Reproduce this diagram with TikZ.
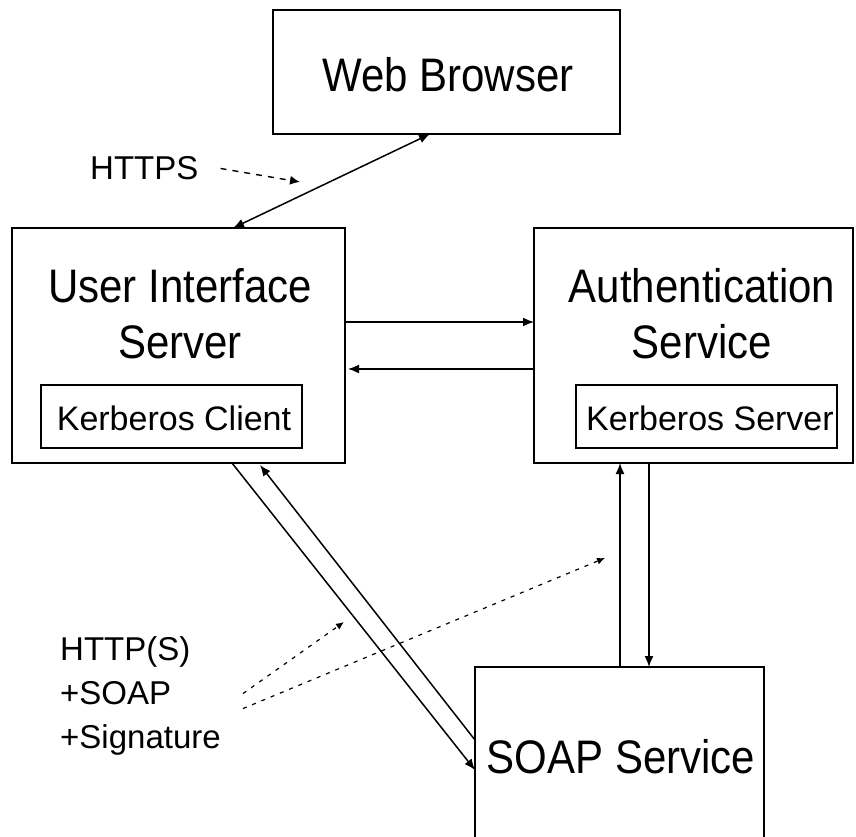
\documentclass[tikz,border=0pt]{standalone}
\usepackage{fontspec}
\setmainfont{Liberation Sans}
\usetikzlibrary{arrows.meta,calc}
\newcommand{\talltext}[1]{\scalebox{1}[1.12]{#1}}
\begin{document}
\begin{tikzpicture}[x=1pt,y=-1pt,
  box/.style={draw,line width=2pt,inner sep=0pt,outer sep=0pt},
  inbox/.style={draw,line width=1.5pt,inner sep=0pt,outer sep=0pt},
  big/.style={inner sep=0pt,font=\fontsize{42}{56}\selectfont,align=center},
  small/.style={inner sep=0pt,font=\fontsize{34}{44}\selectfont},
  lbl/.style={inner sep=0pt,font=\fontsize{33}{44}\selectfont,align=left},
  conn/.style={line width=1.5pt,-{Latex[length=11pt,width=9pt]}},
  dconn/.style={line width=1.5pt,{Latex[length=11pt,width=9pt]}-{Latex[length=11pt,width=9pt]}},
  dash1/.style={line width=1.4pt,dash pattern=on 6pt off 6pt,-{Latex[length=10pt,width=9pt]}},
  dash2/.style={line width=1.2pt,dash pattern=on 4pt off 6pt,-{Latex[length=8pt,width=7pt]}}]
\clip (0,0) rectangle (856,837);
\fill[white] (0,0) rectangle (856,837);
% boxes
\node[box,minimum width=347pt,minimum height=124pt] (wb) at (446.5,72) {};
\node[box,minimum width=333pt,minimum height=235pt] (ui) at (178.5,345.5) {};
\node[box,minimum width=319pt,minimum height=235pt] (auth) at (693.5,345.5) {};
\node[box,minimum width=289pt,minimum height=180pt] (soap) at (619.5,757) {};
\node[inbox,minimum width=261pt,minimum height=63pt] (kc) at (171.5,416.5) {};
\node[inbox,minimum width=261pt,minimum height=63pt] (ks) at (706.5,416.5) {};
% texts
\node[big] (wbt) at (448,75) {\talltext{Web Browser}};
\node[big,anchor=north] (uit) at (180,268) {\talltext{User Interface}\\\talltext{Server}};
\node[big,anchor=north] (autht) at (702,268) {\talltext{Authentication}\\\talltext{Service}};
\node[big] (soapt) at (621,757) {\talltext{SOAP Service}};
\node[small] (kct) at (174,418) {Kerberos Client};
\node[small] (kst) at (710,418) {Kerberos Server};
\node[lbl,anchor=west] (https) at (90,168.5) {HTTPS};
\node[lbl,anchor=north west] (soaplbl) at (60,636) {HTTP(S)\\+SOAP\\+Signature};
% connectors
\draw[dconn] ($(wb.south west)+(157,0)$) -- ($(ui.north west)+(221,0)$);
\draw[conn] ($(ui.north east)+(0,94)$) -- ($(auth.north west)+(0,94)$);
\draw[conn,shorten >=3pt] ($(auth.north west)+(0,141)$) -- ($(ui.north east)+(0,141)$);
\draw[conn] ($(ui.south west)+(220,0)$) -- ($(soap.north west)+(0,103)$);
\draw[conn] ($(soap.north west)+(0,73)$) -- ($(ui.south west)+(248,2)$);
\draw[conn] ($(soap.north west)+(145,0)$) -- ($(auth.south west)+(86,0)$);
\draw[conn] ($(auth.south west)+(115,0)$) -- ($(soap.north west)+(174,0)$);
% label pointers
\coordinate (hx) at (300,182);
\coordinate (d1) at (344,622);
\coordinate (d2) at (605,558);
\draw[dash1] ($(https.east)+(22,0)$) -- (hx);
\draw[dash2] ($(soaplbl.east)+(22,-2)$) -- (d1);
\draw[dash2] ($(soaplbl.east)+(22,13)$) -- (d2);
\end{tikzpicture}
\end{document}
